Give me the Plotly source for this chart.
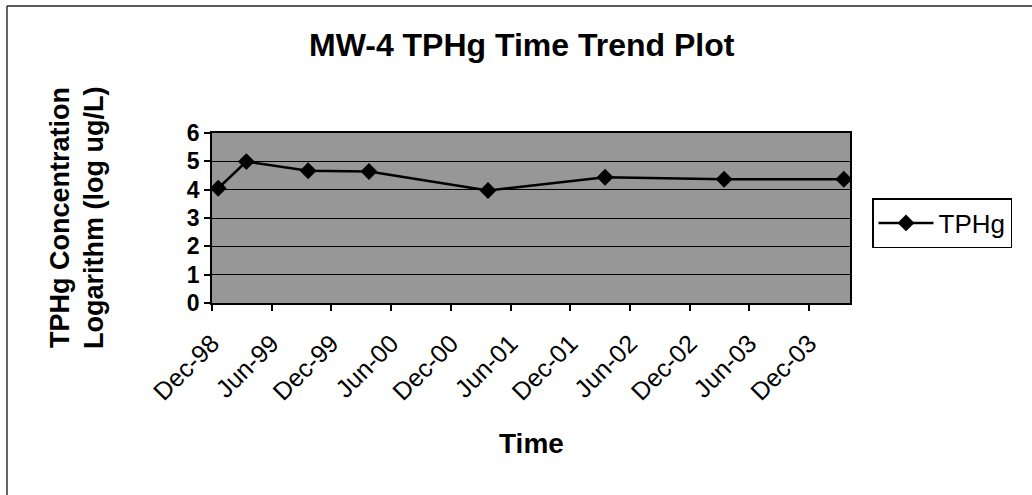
import plotly.graph_objects as go

# Sampling dates and log-concentration values for MW-4
dates = ["1998-12-20", "1999-03-16", "1999-09-21", "2000-03-25",
         "2001-03-24", "2002-03-17", "2003-03-16", "2004-03-16"]
tphg_log = [4.05, 4.99, 4.67, 4.64, 3.97, 4.44, 4.37, 4.37]

tick_dates = ["1998-12-01", "1999-06-01", "1999-12-01", "2000-06-01",
              "2000-12-01", "2001-06-01", "2001-12-01", "2002-06-01",
              "2002-12-01", "2003-06-01", "2003-12-01"]
tick_labels = ["Dec-98", "Jun-99", "Dec-99", "Jun-00", "Dec-00", "Jun-01",
               "Dec-01", "Jun-02", "Dec-02", "Jun-03", "Dec-03"]

W, H = 1032, 495
L, R, T, B = 212, 182, 133, 192
pw, ph = W - L - R, H - T - B


def px_x(p):
    return (p - L) / pw


def px_y(p):
    return (H - B - p) / ph


FONT = "Liberation Sans, Arial, sans-serif"

fig = go.Figure()
fig.add_trace(go.Scatter(
    x=dates, y=tphg_log, name="TPHg", mode="lines+markers",
    line=dict(color="black", width=2.5),
    marker=dict(symbol="diamond", size=13, color="black"),
))


def label(text, x, y, size, angle=0):
    return dict(text=text, xref="paper", yref="paper",
                x=px_x(x), y=px_y(y), xanchor="center", yanchor="middle",
                textangle=angle, showarrow=False,
                font=dict(size=size, family=FONT))


fig.update_layout(
    width=W, height=H,
    margin=dict(l=L, r=R, t=T, b=B),
    paper_bgcolor="white",
    plot_bgcolor="#979797",
    font=dict(family=FONT, color="black"),
    showlegend=True,
    legend=dict(
        x=px_x(872), y=px_y(198), xanchor="left", yanchor="top",
        bgcolor="white", bordercolor="black", borderwidth=1.5,
        font=dict(size=26, family=FONT), itemwidth=55,
        entrywidth=90, tracegroupgap=0,
    ),
    xaxis=dict(
        type="date", range=["1998-12-01", "2004-04-04"],
        tickmode="array", tickvals=tick_dates, ticktext=tick_labels,
        tickangle=-45, tickfont=dict(size=25, family=FONT),
        ticklabelstandoff=8,
        ticks="outside", ticklen=6, tickcolor="black", tickwidth=1.5,
        showgrid=False, zeroline=False,
        showline=True, linecolor="black", linewidth=1.5, mirror=True,
    ),
    yaxis=dict(
        range=[0, 6], tickvals=[0, 1, 2, 3, 4, 5, 6],
        tickfont=dict(size=23, family=FONT, weight="bold"),
        ticks="outside", ticklen=6, tickcolor="black", tickwidth=1.5,
        showgrid=True, gridcolor="black", gridwidth=1,
        zeroline=False,
        showline=True, linecolor="black", linewidth=1.5, mirror=True,
    ),
    annotations=[
        label("<b>MW-4 TPHg Time Trend Plot</b>", 522, 45, 32),
        label("<b>TPHg Concentration</b>", 60, 218, 27, -90),
        label("<b>Logarithm (log ug/L)</b>", 94, 218, 27, -90),
        label("<b>Time</b>", 531, 443, 28),
    ],
    shapes=[
        dict(type="line", xref="paper", yref="paper",
             x0=px_x(7), x1=px_x(7), y0=px_y(6), y1=px_y(495),
             line=dict(color="#333333", width=1.5)),
        dict(type="line", xref="paper", yref="paper",
             x0=px_x(7), x1=px_x(1032), y0=px_y(6), y1=px_y(6),
             line=dict(color="#222222", width=1.5)),
    ],
)

fig.write_html("out.html")
